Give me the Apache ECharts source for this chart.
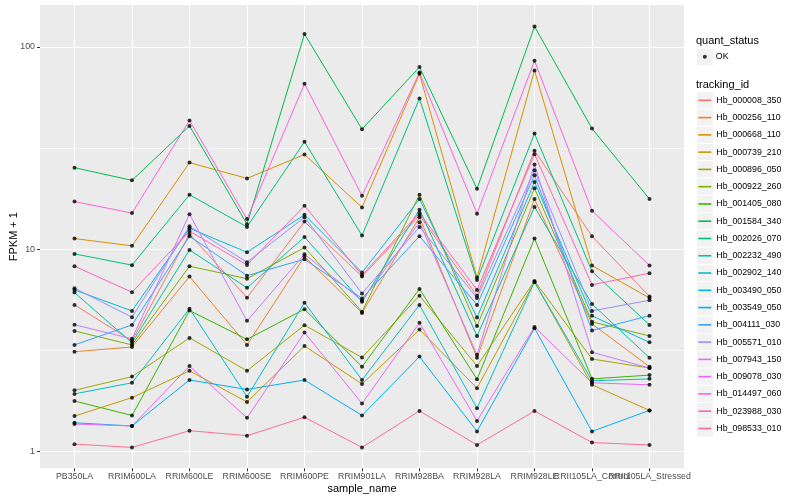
<!DOCTYPE html>
<html><head><meta charset="utf-8">
<script src="https://cdn.jsdelivr.net/npm/echarts@6/dist/echarts.min.js"></script>
<style>html,body{margin:0;padding:0;background:#fff}#chart{width:800px;height:500px}</style>
</head><body><div id="chart"></div>
<script>
const categories = ['PB350LA','RRIM600LA','RRIM600LE','RRIM600SE','RRIM600PE','RRIM901LA','RRIM928BA','RRIM928LA','RRIM928LE','RRII105LA_Control','RRII105LA_Stressed'];
const trackingIds = ['Hb_000008_350','Hb_000256_110','Hb_000668_110','Hb_000739_210','Hb_000896_050','Hb_000922_260','Hb_001405_080','Hb_001584_340','Hb_002026_070','Hb_002232_490','Hb_002902_140','Hb_003490_050','Hb_003549_050','Hb_004111_030','Hb_005571_010','Hb_007943_150','Hb_009078_030','Hb_014497_060','Hb_023988_030','Hb_098533_010'];
const palette = ['#F8766D','#EA8331','#D89000','#C09B00','#A3A500','#7CAE00','#39B600','#00BB4E','#00BF7D','#00C1A3','#00BFC4','#00BAE0','#00B0F6','#35A2FF','#9590FF','#C77CFF','#E76BF3','#FA62DB','#FF62BC','#FF6C91'];
const yTicks = [1, 10, 100];
const yMinorBreaks = [3.1623, 31.623];

const hb_000008_350 = [5.31, 3.53, 11.9, 5.77, 13.7, 7.33, 14.7, 5.90, 30.7, 11.6, 5.85];
const hb_000256_110 = [3.12, 3.29, 7.33, 3.37, 9.20, 4.85, 14.4, 2.91, 17.7, 4.28, 2.63];
const hb_000668_110 = [11.3, 10.4, 26.8, 22.4, 29.4, 16.1, 73.6, 7.25, 76.5, 8.31, 5.75];
const hb_000739_210 = [1.50, 1.85, 2.51, 1.76, 3.33, 2.16, 4.01, 2.06, 6.90, 2.14, 1.60];
const hb_000896_050 = [2.01, 2.35, 3.65, 2.51, 4.22, 2.92, 5.90, 2.65, 6.98, 2.87, 2.59];
const hb_000922_260 = [3.95, 3.37, 8.25, 7.16, 10.2, 4.92, 18.6, 4.18, 20.0, 4.38, 3.73];
const hb_001405_080 = [1.78, 1.51, 4.98, 3.59, 5.06, 2.63, 6.37, 2.28, 11.3, 2.29, 2.39];
const hb_001584_340 = [25.3, 21.9, 40.7, 13.3, 115.7, 39.2, 79.5, 19.9, 126.1, 39.5, 17.7];
const hb_002026_070 = [9.49, 8.35, 18.6, 12.9, 34.0, 11.7, 55.6, 7.06, 37.3, 7.78, 4.23];
const hb_002232_490 = [6.11, 3.45, 9.93, 6.45, 11.5, 5.50, 15.7, 3.73, 16.2, 5.37, 2.91];
const hb_002902_140 = [1.93, 2.19, 5.09, 1.87, 5.45, 2.26, 5.31, 1.64, 6.90, 2.24, 2.29];
const hb_003490_050 = [6.30, 4.96, 12.7, 9.67, 14.8, 7.67, 17.7, 4.60, 21.5, 4.69, 3.47];
const hb_003549_050 = [1.39, 1.34, 2.26, 2.03, 2.26, 1.51, 2.95, 1.26, 4.07, 1.26, 1.60];
const hb_004111_030 = [3.37, 4.23, 11.6, 7.41, 8.93, 5.72, 11.6, 5.31, 23.2, 3.97, 4.70];
const hb_005571_010 = [6.42, 4.62, 13.0, 8.64, 14.4, 6.05, 12.9, 5.75, 24.6, 4.96, 5.60];
const hb_007943_150 = [4.24, 3.61, 14.9, 4.43, 9.46, 5.59, 13.6, 3.01, 26.2, 3.10, 2.59];
const hb_009078_030 = [1.37, 1.34, 2.65, 1.47, 3.88, 1.73, 4.33, 1.42, 4.13, 2.19, 2.14];
const hb_014497_060 = [17.2, 15.1, 43.3, 14.1, 65.7, 18.4, 74.7, 15.0, 85.4, 15.5, 8.32];
const hb_023988_030 = [8.25, 6.14, 12.3, 8.37, 16.4, 7.47, 15.1, 6.30, 29.5, 6.67, 7.62];
const hb_098533_010 = [1.09, 1.05, 1.27, 1.20, 1.48, 1.05, 1.59, 1.08, 1.59, 1.11, 1.08];

const seriesValues = [hb_000008_350, hb_000256_110, hb_000668_110, hb_000739_210, hb_000896_050, hb_000922_260, hb_001405_080, hb_001584_340, hb_002026_070, hb_002232_490, hb_002902_140, hb_003490_050, hb_003549_050, hb_004111_030, hb_005571_010, hb_007943_150, hb_009078_030, hb_014497_060, hb_023988_030, hb_098533_010];

const FONT = '"Liberation Sans", Arial, Helvetica, sans-serif';
const chart = echarts.init(document.getElementById('chart'), null, {renderer: 'canvas'});

const lineSeries = trackingIds.map((id, k) => ({
  name: id, type: 'line', xAxisIndex: 1, yAxisIndex: 1,
  data: seriesValues[k], symbol: 'none',
  lineStyle: {width: 1, color: palette[k]}, itemStyle: {color: palette[k]},
  z: 5, animation: false, emphasis: {disabled: true}, silent: true
}));
const pointData = [];
seriesValues.forEach(vals => vals.forEach((v, i) => pointData.push([categories[i], v])));
const okSeries = {
  name: 'OK', type: 'scatter', xAxisIndex: 1, yAxisIndex: 1, data: pointData,
  symbol: 'circle', symbolSize: 4, itemStyle: {color: '#000'}, z: 6,
  animation: false, silent: true
};

const keyTop = 91.7, keyStep = 17.27;
const keyRects = trackingIds.map((id, k) => ({
  type: 'rect', z: 0, silent: true,
  shape: {x: 696.3, y: keyTop + keyStep * k, width: 17, height: keyStep},
  style: {fill: '#F2F2F2', stroke: '#ffffff', lineWidth: 1}
}));
keyRects.push({type: 'rect', z: 0, silent: true,
  shape: {x: 696.3, y: 48.6, width: 17, height: keyStep},
  style: {fill: '#F2F2F2', stroke: '#ffffff', lineWidth: 1}});

const yRange = {min: 0.828, max: 161};

const option = {
  animation: false,
  backgroundColor: '#ffffff',
  textStyle: {fontFamily: FONT},
  title: [
    {text: 'quant_status', left: 696, top: 35.5, padding: 0,
     textStyle: {fontSize: 11, fontWeight: 'normal', color: '#000', fontFamily: FONT}},
    {text: 'tracking_id', left: 696, top: 79.5, padding: 0,
     textStyle: {fontSize: 11, fontWeight: 'normal', color: '#000', fontFamily: FONT}}
  ],
  legend: [
    {orient: 'vertical', left: 698.3, top: keyTop, padding: 0, itemGap: 0,
     itemWidth: 13, itemHeight: 1.6, icon: 'rect', selectedMode: false,
     data: trackingIds.map((id, k) => ({name: id, itemStyle: {color: palette[k]}})),
     textStyle: {fontSize: 8.8, color: '#000', fontFamily: FONT, lineHeight: keyStep}},
    {orient: 'vertical', left: 702.8, top: 52.3, padding: 0, itemWidth: 4, itemHeight: 4,
     selectedMode: false, data: [{name: 'OK', icon: 'circle'}],
     textStyle: {fontSize: 8.8, color: '#000', fontFamily: FONT, padding: [0, 0, 0, 4]}}
  ],
  graphic: keyRects,
  grid: [
    {left: 40, right: 116, top: 5, bottom: 31.7, show: true, backgroundColor: '#EBEBEB', borderWidth: 0, outerBoundsMode: 'none'},
    {left: 74.5, right: 150.5, top: 5, bottom: 31.7, outerBoundsMode: 'none'}
  ],
  xAxis: [
    {gridIndex: 0, type: 'value', min: 0, max: 1, show: false},
    {gridIndex: 1, type: 'category', data: categories, boundaryGap: false, z: 0,
     axisLine: {show: false},
     axisTick: {show: true, length: 3, lineStyle: {color: '#333333', width: 1}},
     axisLabel: {color: '#4D4D4D', fontSize: 8.8, margin: 4, interval: 0, hideOverlap: false, fontFamily: FONT},
     splitLine: {show: true, lineStyle: {color: '#ffffff', width: 1.1}},
     name: 'sample_name', nameLocation: 'middle', nameGap: 15.5, nameMoveOverlap: false,
     nameTextStyle: {fontSize: 11, color: '#000', fontFamily: FONT}}
  ],
  yAxis: [
    {gridIndex: 0, type: 'log', logBase: 10, min: yRange.min, max: yRange.max, z: 0,
     axisLine: {show: false},
     axisTick: {show: true, length: 3, lineStyle: {color: '#333333', width: 1}, customValues: yTicks},
     axisLabel: {color: '#4D4D4D', fontSize: 8.8, margin: 5, fontFamily: FONT, customValues: yTicks},
     splitLine: {show: true, lineStyle: {color: '#ffffff', width: 1.1}},
     name: 'FPKM + 1', nameLocation: 'middle', nameGap: 21, nameMoveOverlap: false,
     nameTextStyle: {fontSize: 11, color: '#000', fontFamily: FONT}},
    {gridIndex: 1, type: 'log', logBase: 10, min: yRange.min, max: yRange.max, show: false,
     splitLine: {show: false}},
    {gridIndex: 0, type: 'log', logBase: 10, min: yRange.min, max: yRange.max, z: 0,
     axisLine: {show: false}, axisLabel: {show: false, customValues: yMinorBreaks},
     axisTick: {show: false, customValues: yMinorBreaks},
     splitLine: {show: true, lineStyle: {color: '#ffffff', width: 0.6}}}
  ],
  series: lineSeries.concat([okSeries])
};
chart.setOption(option);
</script>
</body></html>
